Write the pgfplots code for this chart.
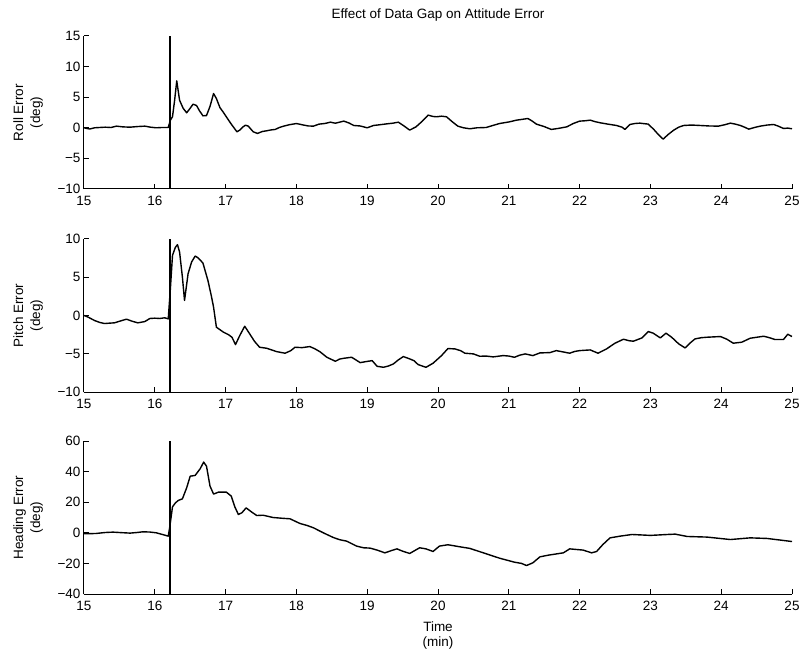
\documentclass[border=0pt]{standalone}
\usepackage{fontspec}
\setmainfont{Liberation Sans}
\usepackage{pgfplots}
\pgfplotsset{compat=1.18}
\newcommand\fs{\fontsize{13.5}{15}\selectfont}
\pgfplotsset{
  curve/.style={black, no markers, line width=1.4pt, line join=round},
  vline/.style={black, no markers, line width=1.7pt},
  mstyle/.style={
    scale only axis, width=708pt, height=153pt,
    xmin=15, xmax=25,
    axis x line*=bottom, axis y line*=left,
    axis line style={-, line width=1pt},
    tick align=inside, major tick length=5pt,
    tick style={line width=1pt, black},
    xtick={15,16,...,25},
    /pgf/number format/assume math mode=true,
    tick label style={font=\fs},
    label style={font=\fs},
    xticklabel style={yshift=-4pt},
    yticklabel style={xshift=0pt},
    ylabel style={font=\fontsize{13.5}{17}\selectfont, at={(axis description cs:-0.079,0.5)}, anchor=center, align=center, rotate=0},
  }
}
\begin{document}
\begin{tikzpicture}
\useasboundingbox (0,0) rectangle (803pt,-655pt);
% ---------------- Roll ----------------
\begin{axis}[mstyle, at={(84pt,-36pt)}, anchor=north west,
  ymin=-10, ymax=15, ytick={-10,-5,0,5,10,15},
  yticklabels={−10,−5,0,5,10,15},
  ylabel={Roll Error\\(deg)},
  title={Effect of Data Gap on Attitude Error},
  title style={font=\fs, at={(axis description cs:0.5,1)}, anchor=base, yshift=11pt}]
\addplot[curve] coordinates {
(15,0) (15.04,-0.1) (15.08,-0.2) (15.15,0) (15.22,0.05) (15.3,0.1) (15.38,0.05) (15.46,0.27) (15.55,0.15)
(15.65,0.1) (15.75,0.2) (15.86,0.27) (15.94,0.1) (16.02,0) (16.1,0.05) (16.19,0.05)
(16.22,1.25) (16.25,1.8) (16.28,4.5) (16.31,7.66) (16.35,4.5) (16.4,3.2) (16.45,2.45) (16.5,3.2)
(16.54,3.86) (16.59,3.64) (16.63,2.8) (16.68,1.96) (16.73,2.0) (16.78,3.5) (16.83,5.6) (16.87,4.78)
(16.92,3.3) (16.97,2.5) (17.01,1.8) (17.08,0.6) (17.16,-0.65) (17.2,-0.38) (17.24,0.1) (17.28,0.43) (17.32,0.27)
(17.39,-0.65) (17.45,-0.92) (17.52,-0.6) (17.58,-0.49) (17.64,-0.35) (17.7,-0.27) (17.76,0.05) (17.82,0.27)
(17.9,0.5) (18.0,0.7) (18.1,0.45) (18.17,0.3) (18.24,0.27) (18.32,0.6) (18.4,0.7) (18.48,0.92) (18.55,0.75)
(18.67,1.09) (18.74,0.8) (18.81,0.38) (18.9,0.3) (19.0,0) (19.09,0.38) (19.18,0.5) (19.28,0.65)
(19.36,0.75) (19.44,0.92) (19.52,0.3) (19.6,-0.38) (19.69,0.16) (19.78,1.1) (19.86,2.07) (19.93,1.85)
(19.98,1.8) (20.05,1.9) (20.12,1.8) (20.2,1.0) (20.28,0.27) (20.36,0.0) (20.45,-0.16) (20.55,0.0)
(20.68,0.05) (20.78,0.4) (20.87,0.7) (21.0,0.95) (21.11,1.25) (21.2,1.4) (21.27,1.52) (21.33,1.1) (21.39,0.6)
(21.5,0.2) (21.6,-0.27) (21.7,-0.1) (21.82,0.16) (21.91,0.7) (22.0,1.09) (22.08,1.15) (22.15,1.25)
(22.22,1.0) (22.29,0.82) (22.4,0.6) (22.52,0.38) (22.6,0.1) (22.64,-0.27) (22.71,0.54) (22.78,0.7) (22.85,0.76)
(22.97,0.6) (23.05,-0.3) (23.12,-1.2) (23.18,-1.85) (23.25,-1.1) (23.33,-0.38) (23.4,0.1) (23.47,0.38)
(23.58,0.45) (23.7,0.38) (23.83,0.3) (23.96,0.27) (24.05,0.5) (24.13,0.76) (24.2,0.6) (24.27,0.38)
(24.33,0.1) (24.39,-0.22) (24.47,0.05) (24.55,0.27) (24.65,0.45) (24.74,0.54) (24.8,0.3) (24.88,-0.11)
(24.94,-0.05) (25.0,-0.16)
};
\addplot[vline] coordinates {(16.21,-10) (16.21,15)};
\end{axis}
% ---------------- Pitch ----------------
\begin{axis}[mstyle, at={(84pt,-239pt)}, anchor=north west,
  ymin=-10, ymax=10, ytick={-10,-5,0,5,10},
  yticklabels={−10,−5,0,5,10},
  ylabel={Pitch Error\\(deg)}]
\addplot[curve] coordinates {
(15,0) (15.06,-0.22) (15.15,-0.66) (15.22,-0.9) (15.29,-1.05) (15.36,-1.0) (15.43,-0.96) (15.52,-0.7)
(15.6,-0.48) (15.68,-0.75) (15.76,-0.96) (15.86,-0.79) (15.93,-0.39) (16.0,-0.35) (16.07,-0.39) (16.14,-0.3) (16.19,-0.44)
(16.22,3.5) (16.25,7.86) (16.29,8.9) (16.32,9.26) (16.35,8.3) (16.39,5.0) (16.42,1.97) (16.47,5.46) (16.52,7.0)
(16.57,7.77) (16.61,7.55) (16.68,6.86) (16.75,4.59) (16.8,2.5) (16.83,1.09) (16.87,-1.53) (16.97,-2.18)
(17.04,-2.5) (17.09,-2.84) (17.14,-3.8) (17.2,-2.62) (17.27,-1.4) (17.34,-2.4) (17.41,-3.4) (17.48,-4.15)
(17.58,-4.28) (17.65,-4.5) (17.72,-4.72) (17.84,-4.93) (17.92,-4.6) (17.98,-4.15) (18.08,-4.2) (18.19,-4.06)
(18.26,-4.35) (18.33,-4.72) (18.43,-5.46) (18.55,-5.98) (18.61,-5.7) (18.67,-5.59) (18.78,-5.46)
(18.84,-5.8) (18.9,-6.16) (19.0,-6.0) (19.07,-5.9) (19.14,-6.64) (19.23,-6.77) (19.3,-6.6) (19.37,-6.33)
(19.44,-5.8) (19.51,-5.37) (19.58,-5.6) (19.66,-5.9) (19.72,-6.42) (19.83,-6.77) (19.93,-6.24)
(20.05,-5.24) (20.14,-4.32) (20.24,-4.37) (20.32,-4.6) (20.38,-4.93) (20.5,-5.02) (20.59,-5.33) (20.68,-5.3)
(20.78,-5.41) (20.92,-5.24) (21.0,-5.3) (21.08,-5.46) (21.15,-5.2) (21.23,-5.02) (21.34,-5.24)
(21.44,-4.89) (21.58,-4.85) (21.67,-4.59) (21.76,-4.75) (21.86,-4.93) (21.93,-4.7) (22.0,-4.59)
(22.15,-4.5) (22.26,-4.93) (22.38,-4.37) (22.5,-3.62) (22.62,-3.1) (22.7,-3.3) (22.76,-3.36)
(22.88,-2.93) (22.97,-2.1) (23.04,-2.31) (23.14,-2.93) (23.22,-2.31) (23.3,-2.84) (23.4,-3.71)
(23.49,-4.24) (23.56,-3.6) (23.63,-3.06) (23.72,-2.9) (23.8,-2.84) (23.99,-2.75) (24.08,-3.1)
(24.17,-3.62) (24.29,-3.49) (24.41,-2.97) (24.6,-2.71) (24.68,-2.9) (24.76,-3.14) (24.88,-3.14)
(24.94,-2.45) (25.0,-2.75)
};
\addplot[vline] coordinates {(16.21,-10) (16.21,10)};
\end{axis}
% ---------------- Heading ----------------
\begin{axis}[mstyle, at={(84pt,-441pt)}, anchor=north west,
  ymin=-40, ymax=60, ytick={-40,-20,0,20,40,60},
  yticklabels={−40,−20,0,20,40,60},
  ylabel={Heading Error\\(deg)},
  xlabel={Time\\(min)},
  xlabel style={align=center, at={(axis description cs:0.5,-0.27)}, anchor=center}]
\addplot[curve] coordinates {
(15,-0.65) (15.17,-0.44) (15.3,0.2) (15.41,0.44) (15.53,0.1) (15.65,-0.2) (15.75,0.2) (15.83,0.65)
(15.93,0.5) (16.02,0) (16.1,-1.0) (16.19,-2.18) (16.21,3.3) (16.25,17) (16.29,19.5) (16.33,21.1)
(16.39,22.2) (16.45,29.4) (16.5,37) (16.57,37.5) (16.64,41.8) (16.69,46.2) (16.73,43.6) (16.78,30.5)
(16.83,25.3) (16.9,26.6) (17.01,26.6) (17.08,24) (17.13,17) (17.18,12) (17.23,13.1) (17.29,16.3)
(17.37,13.5) (17.44,11.3) (17.53,11.5) (17.67,10) (17.8,9.5) (17.91,9.15) (18.05,6.1) (18.15,4.8)
(18.24,3.3) (18.38,0) (18.52,-3.05) (18.61,-4.5) (18.71,-5.45) (18.85,-8.7) (18.95,-9.8) (19.04,-10)
(19.14,-11.3) (19.25,-13.1) (19.35,-11.5) (19.42,-10.5) (19.5,-12) (19.6,-13.5) (19.74,-9.8)
(19.83,-10.5) (19.93,-12.2) (20.02,-8.7) (20.14,-7.8) (20.31,-9.15) (20.45,-10.2) (20.68,-13.7)
(20.87,-16.6) (21.08,-19.2) (21.18,-20.0) (21.25,-21.4) (21.34,-19.6) (21.44,-15.7) (21.56,-14.6)
(21.77,-13.1) (21.86,-10.5) (22.05,-11.3) (22.17,-13.1) (22.24,-12.2) (22.33,-7.6) (22.43,-3.3)
(22.57,-2.2) (22.74,-1.1) (23.0,-1.7) (23.24,-1.1) (23.35,-0.87) (23.52,-2.4) (23.8,-2.8)
(24.13,-4.4) (24.41,-3.3) (24.65,-3.7) (25.0,-5.7)
};
\addplot[vline] coordinates {(16.21,-40) (16.21,60)};
\end{axis}
\end{tikzpicture}
\end{document}
